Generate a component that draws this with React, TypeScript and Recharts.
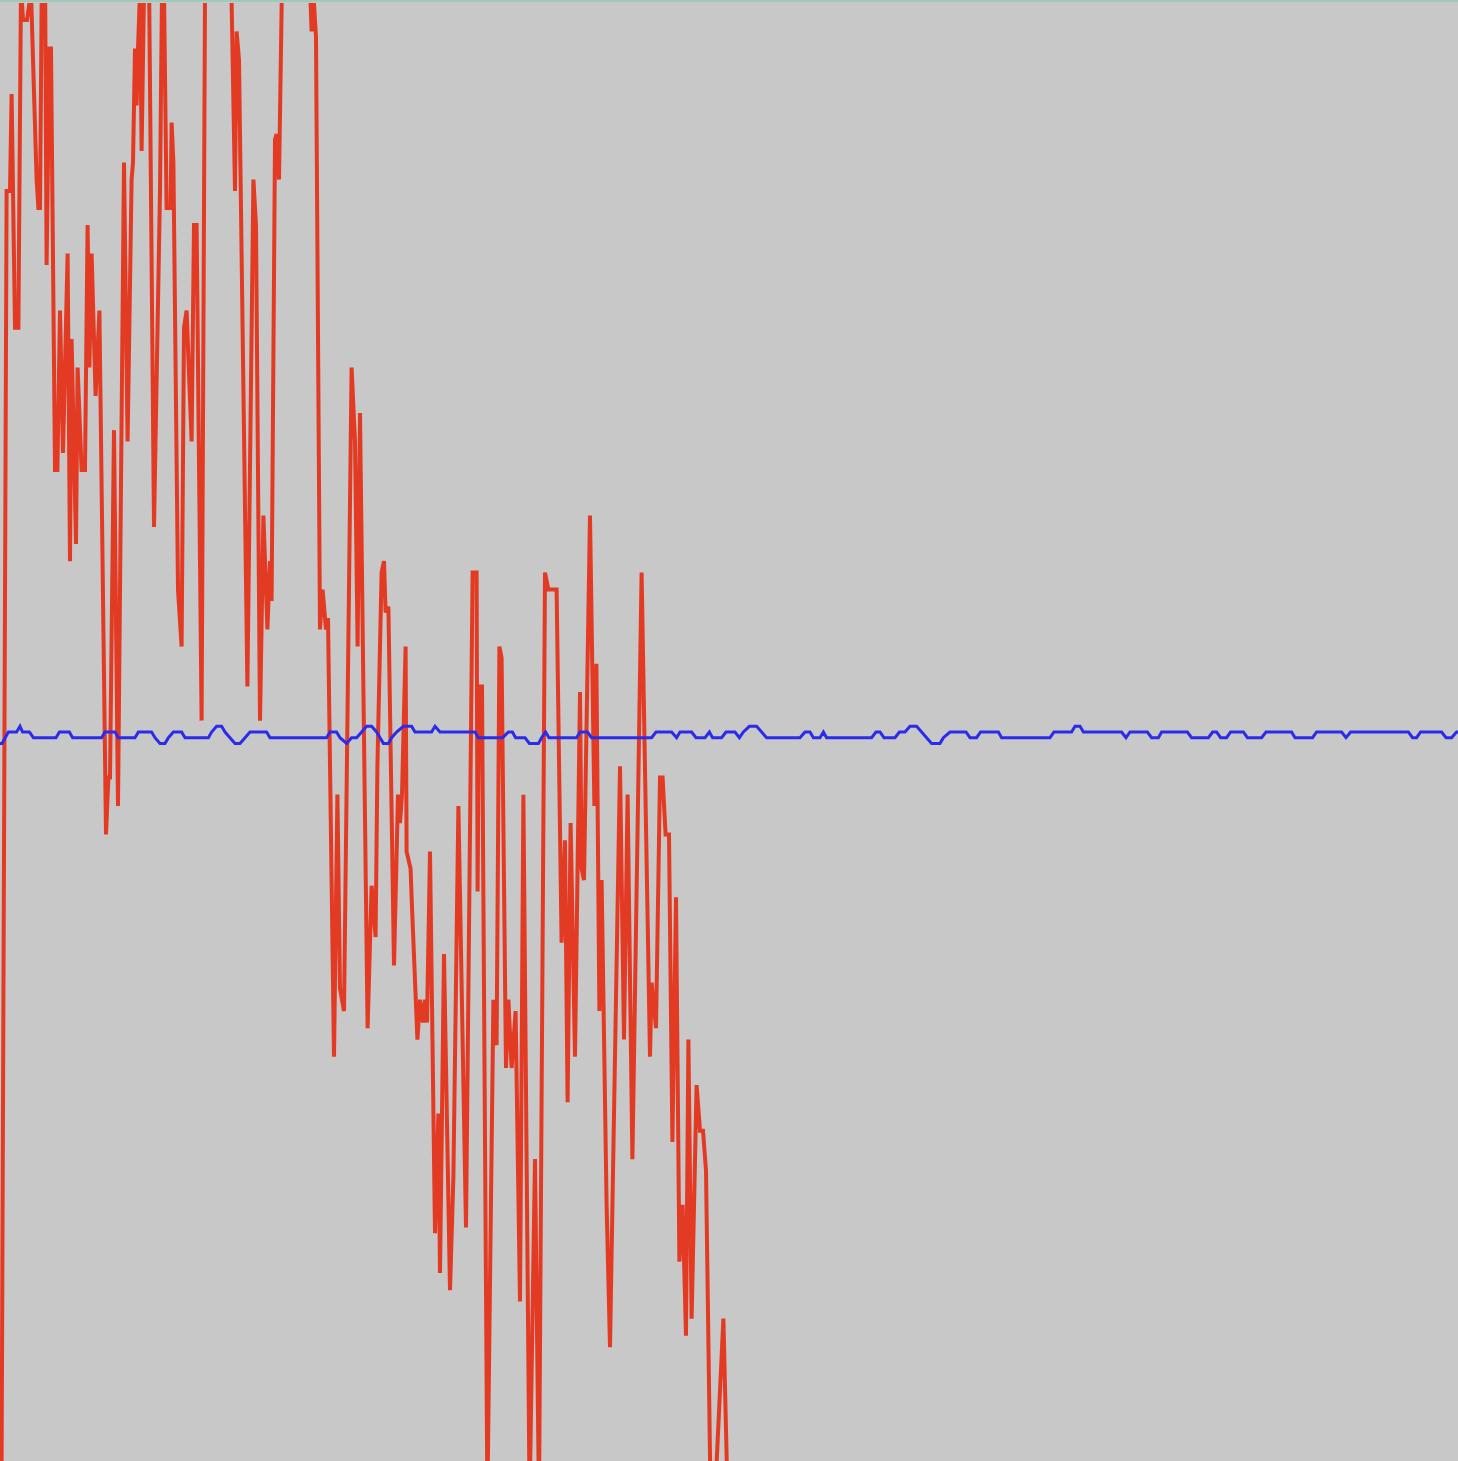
import React from "react";
import { LineChart, Line, XAxis, YAxis } from "recharts";

// Signal trace (red): sample time and value
const redTime = [
  0, 3.3, 5, 5.8, 7.5, 9.2, 10.5, 11.5, 13.5, 15.5, 18.3, 19.2, 20, 21, 22.5, 23.3, 24.7, 25.5,
  27.5, 28.7, 30, 31.5, 33.8, 35, 35.8, 38, 38.8, 40.8, 42.5, 43.8, 44.7, 45.8, 47.8, 49.7,
  53, 54.2, 55, 57, 59, 62, 63.8, 65.8, 66.5, 67.5, 68.3, 69, 70, 70.8, 72, 74.5, 77, 80, 81,
  82, 83.3, 85.3, 85.8, 86.7, 89, 90.8, 92, 93.3, 95.8, 97, 98.3, 100.8, 103, 109, 114.7,
  117.5, 118.3, 119.5, 123.7, 126.7, 128, 130, 131.7, 133.7, 135, 135.8, 137.5, 138.3, 139.5,
  141.5, 148, 154.2, 155.8, 156.8, 158, 160, 161.3, 163, 164, 167, 168.7, 170, 172, 175.8,
  177.5, 178.8, 180, 183.8, 185.8, 186.7, 187.8, 188.7, 190.8, 192, 192.8, 194.2, 197, 199,
  200, 201, 202.8, 203.3, 205.3, 205.8, 208.7, 210, 211.5, 212.5, 213.5, 215, 217.5, 219.2,
  220, 222, 225, 226.7, 229.2, 231.3, 233, 236.3, 238.3, 238.8, 239.5, 241, 243.7, 246.7,
  248.3, 249.7, 250.8, 253, 254.2, 255.8, 257.8, 260, 261.7, 264.8, 267.5, 269.5, 272.5,
  274.2, 278.3, 280.8, 282.5, 283.8, 285.3, 287.5, 290, 290.8, 292, 295, 297.2, 298.2, 299.7,
  300.8, 303.3, 305, 310, 312, 313.8, 316.2, 320.8, 325, 325.8, 328, 330, 331.3, 332.8, 334.5,
  336.2, 338, 339.7, 341.3, 343, 344.2, 345.8, 348.3, 350, 351.5, 353, 355.8, 361.7, 364.5,
];
const redValue = [
  -200, 95, 95, 112, 71, 71, 131, 125, 125, 130, 97, 92, 92, 136, 136, 82, 120, 120,
  46, 46, 74, 49, 84, 30, 69, 33, 64, 46, 46, 89, 64, 84, 59, 74,
  -18, -8, -8, 53, -13, 100, 51, 97, 100, 120, 110, 120, 130, 102, 130, 133, 36, 95, 130,
  130, 92, 92, 107, 100, 25, 15, 71, 74, 51, 89, 89, 2, 167, 170, 150,
  95, 123, 118, 8, 97, 89, 2, 38, 18, 30, 23, 104, 105, 97,
  143, 160, 139, 123, 129, 122, 18, 25, 18, 20, -57, -11, -45, -49, 64,
  51, 15, 56, -52, -27, -31, -36, -6, 28, 30, 21, 22, -41, -11,
  -16, -11, 15, -21, -24, -29, -54, -47, -51, -47, -51, -21, -88, -67,
  -95, -39, -98, -78, -13, -54, -87, 28, 28, -28, 8, 8, -135, -47,
  -55, 15, 13, -59, -47, -59, -49, -100, -11, -135, -75, -135, 28,
  25, 25, -37, -19, -65, -16, -57, 7, -24, -26, 38, -13, 12, -49,
  -26, -83, -108, -6, -54, -11, -75, 28, -57, -44, -52, -8, -8, -18, -18,
  -72, -29, -93, -83, -106, -54, -103, -62, -70, -70, -77, -147, -103, -145,
];

// Reference trace (blue): sample time and level
const blueTime = [
  0, 1, 4.2, 8.3, 10, 11.3, 14.7, 16.7, 28, 29.7, 34.7, 36.3, 50.8, 52.5, 57.5, 59.2, 67.5,
  69.2, 75.8, 77.5, 80, 82.5, 84.2, 86.7, 90.8, 92.5, 104.2, 105.8, 108.3, 110.8, 112.5, 115,
  117.5, 120, 122.5, 125, 133.3, 135, 163.3, 165, 168.3, 170, 173.3, 175.8, 178.3, 180.8,
  183.3, 185.8, 188.3, 190, 191.7, 194.2, 195.8, 198.3, 201.7, 205.8, 207.5, 215.8, 217.5,
  220, 237.5, 239.2, 251.3, 254.2, 256.2, 257.8, 262.5, 264.7, 269.2, 270.8, 272.8, 274.5,
  288.3, 290, 293.7, 295.8, 325.8, 328, 335.8, 338.3, 340, 345.8, 348, 352.5, 354.7, 356.3,
  360.8, 363, 367.5, 369.7, 371.7, 374.7, 378.3, 380.8, 383.3, 400, 402.5, 405, 406.7, 410,
  411.7, 413.3, 435.8, 438, 440, 442, 447.5, 449.7, 452.5, 455, 458.3, 460.8, 463.3, 465.8,
  470, 471.7, 475, 483, 485, 488.3, 490.3, 499.2, 500.8, 525, 527, 535.8, 537.5, 540, 541.7,
  560.8, 563, 565, 573.7, 575.8, 579.2, 580.8, 593.7, 595.8, 604.2, 606.3, 608.3, 610.3,
  613.3, 615.3, 621.7, 623.7, 630.8, 633, 645.8, 647.5, 656.3, 658.3, 670.8, 673, 675.3,
  704.2, 706.3, 708.3, 710.3, 720.8, 723, 725.8, 728.3, 729,
];
const blueLevel = [
  -2, -2, 0, 0, 1, 0, 0, -1, -1, 0, 0, -1, -1, 0, 0, -1, -1,
  0, 0, -1, -2, -2, -1, 0, 0, -1, -1, 0, 1, 1, 0, -1,
  -2, -2, -1, 0, 0, -1, -1, 0, 0, -1, -2, -1, -1, 0,
  1, 1, 0, -1, -2, -2, -1, 0, 1, 1, 0, 0, 1,
  0, 0, -1, -1, 0, 0, -1, -1, -2, -2, -1, 0, -1,
  -1, 0, 0, -1, -1, 0, 0, -1, 0, 0, -1, -1, 0, -1,
  -1, 0, 0, -1, 0, 1, 1, 0, -1, -1, 0, 0, -1, -1,
  0, -1, -1, 0, 0, -1, -1, 0, 0, 1, 1, 0, -1, -2,
  -2, -1, 0, 0, -1, -1, 0, 0, -1, -1, 0, 0, 1, 1, 0,
  0, -1, 0, 0, -1, -1, 0, 0, -1, -1, 0, 0, -1,
  -1, 0, 0, -1, -1, 0, 0, -1, -1, 0, 0, -1, 0,
  0, -1, -1, 0, 0, -1, -1, 0, 0,
];

const redData = redTime.map((t, i) => ({ t, v: redValue[i] }));
const blueData = blueTime.map((t, i) => ({ t, v: blueLevel[i] }));

export default function App() {
  return (
    <div
      style={{
        position: "absolute",
        left: 0,
        top: 0,
        width: 1458,
        height: 1461,
        background: "#c8c8c8",
        overflow: "hidden",
      }}
    >
      <LineChart
        width={1458}
        height={1461}
        margin={{ top: 3, right: 0, bottom: 0, left: 0 }}
        style={{ background: "#c8c8c8" }}
      >
        <XAxis
          type="number"
          dataKey="t"
          domain={[0, 729]}
          allowDataOverflow
          hide
        />
        <YAxis
          type="number"
          domain={[-128, 128]}
          allowDataOverflow
          hide
        />
        <Line
          data={redData}
          dataKey="v"
          type="linear"
          stroke="#e33a24"
          strokeWidth={4}
          strokeLinejoin="miter"
          dot={false}
          activeDot={false}
          isAnimationActive={false}
        />
        <Line
          data={blueData}
          dataKey="v"
          type="linear"
          stroke="#2b2bea"
          strokeWidth={3}
          dot={false}
          activeDot={false}
          isAnimationActive={false}
        />
      </LineChart>
      <div
        style={{
          position: "absolute",
          left: 0,
          top: 0,
          width: 1458,
          height: 2,
          background: "#9fcab9",
        }}
      />
    </div>
  );
}
